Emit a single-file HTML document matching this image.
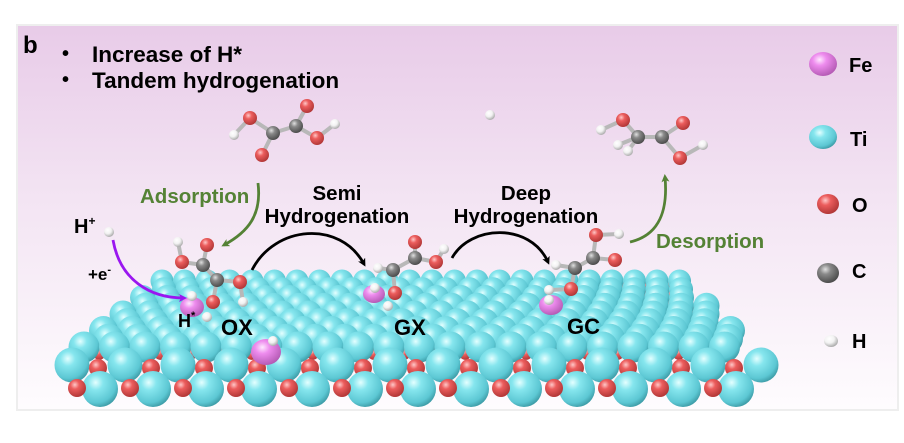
<!DOCTYPE html>
<html><head><meta charset="utf-8"><style>
html,body{margin:0;padding:0;background:#fff;width:904px;height:443px;overflow:hidden}
svg{display:block}
text{font-family:"Liberation Sans",Arial,sans-serif;font-weight:bold}
</style></head><body>
<svg id="s" width="904" height="443" viewBox="0 0 904 443" xmlns="http://www.w3.org/2000/svg">
<defs>
<linearGradient id="bg" x1="0" y1="0" x2="0" y2="1">
<stop offset="0" stop-color="#e8cbe8"/><stop offset="0.45" stop-color="#f3e4f3"/><stop offset="1" stop-color="#fefcfe"/>
</linearGradient>
<radialGradient id="ti" cx="0.38" cy="0.32" r="0.7"><stop offset="0" stop-color="#e4ffff"/><stop offset="0.3" stop-color="#86e6ee"/><stop offset="0.8" stop-color="#5cc7d3"/><stop offset="1" stop-color="#3f9ea9"/></radialGradient>
<radialGradient id="ox" cx="0.38" cy="0.32" r="0.7"><stop offset="0" stop-color="#ffc8c8"/><stop offset="0.35" stop-color="#ec5d5d"/><stop offset="1" stop-color="#b03636"/></radialGradient>
<radialGradient id="fe" cx="0.38" cy="0.32" r="0.7"><stop offset="0" stop-color="#ffe8ff"/><stop offset="0.35" stop-color="#ee8cee"/><stop offset="1" stop-color="#b45ab4"/></radialGradient>
<radialGradient id="cc" cx="0.38" cy="0.32" r="0.7"><stop offset="0" stop-color="#e0e0e0"/><stop offset="0.35" stop-color="#8a8a8a"/><stop offset="1" stop-color="#4a4a4a"/></radialGradient>
<radialGradient id="hh" cx="0.38" cy="0.32" r="0.7"><stop offset="0" stop-color="#ffffff"/><stop offset="0.5" stop-color="#f2f2f2"/><stop offset="1" stop-color="#a8a8a8"/></radialGradient>
<marker id="ag" markerWidth="8" markerHeight="8" refX="5" refY="4" orient="auto" markerUnits="userSpaceOnUse" viewBox="0 0 8 8"><path d="M0,0 L8,4 L0,8 L2,4z" fill="#548235"/></marker>
<marker id="ak" markerWidth="8" markerHeight="8" refX="5" refY="4" orient="auto" markerUnits="userSpaceOnUse" viewBox="0 0 8 8"><path d="M0,0 L8,4 L0,8 L2,4z" fill="#000"/></marker>
<marker id="ap" markerWidth="8" markerHeight="8" refX="5" refY="4" orient="auto" markerUnits="userSpaceOnUse" viewBox="0 0 8 8"><path d="M0,0 L8,4 L0,8 L2,4z" fill="#9a16f0"/></marker>
</defs>
<rect x="17" y="25" width="881" height="385" fill="url(#bg)" stroke="#eee" stroke-width="2"/>
<g id="slab"></g>
<g id="mol"></g>
<text x="23" y="53" font-size="24">b</text>
<text x="62" y="60" font-size="20">•</text><text x="92" y="62" font-size="22.5">Increase of H*</text>
<text x="62" y="86" font-size="20">•</text><text x="92" y="88" font-size="22.5">Tandem hydrogenation</text>
<g fill="none" stroke-width="2.8">
<path d="M258,183 C262,215 248,232 224,245" stroke="#548235" marker-end="url(#ag)"/>
<path d="M113,240 C120,280 150,298 184,298" stroke="#9a16f0" marker-end="url(#ap)"/>
<path d="M252,270 C275,225 340,220 364,264" stroke="#000" marker-end="url(#ak)"/>
<path d="M452,258 C470,225 530,222 548,262" stroke="#000" marker-end="url(#ak)"/>
<path d="M630,242 C660,235 668,210 665,177" stroke="#548235" marker-end="url(#ag)"/>
</g>
<text x="140" y="203" font-size="20.5" fill="#548235">Adsorption</text>
<text x="656" y="248" font-size="20.5" fill="#548235">Desorption</text>
<text x="337" y="200" font-size="20.5" text-anchor="middle">Semi</text>
<text x="337" y="223" font-size="20.5" text-anchor="middle">Hydrogenation</text>
<text x="526" y="200" font-size="20.5" text-anchor="middle">Deep</text>
<text x="526" y="223" font-size="20.5" text-anchor="middle">Hydrogenation</text>
<text x="74" y="233" font-size="20">H<tspan font-size="12" dy="-8">+</tspan></text>
<text x="88" y="280" font-size="17">+e<tspan font-size="11" dy="-7">-</tspan></text>
<text x="178" y="327" font-size="18">H<tspan font-size="11" dy="-8">*</tspan></text>
<text x="221" y="335" font-size="22">OX</text>
<text x="394" y="335" font-size="22">GX</text>
<text x="567" y="334" font-size="22">GC</text>
<g font-size="20">
<text x="849" y="72">Fe</text><text x="850" y="146">Ti</text><text x="852" y="212">O</text><text x="852" y="278">C</text><text x="852" y="348">H</text>
</g>
</svg>
<script>
var NS="http://www.w3.org/2000/svg";
function C(g,x,y,r,f,ry){var e=document.createElementNS(NS,ry?"ellipse":"circle");e.setAttribute("cx",x);e.setAttribute("cy",y);if(ry){e.setAttribute("rx",r);e.setAttribute("ry",ry);}else e.setAttribute("r",r);e.setAttribute("fill","url(#"+f+")");g.appendChild(e);}
function L(g,a,b){var e=document.createElementNS(NS,"line");e.setAttribute("x1",a[0]);e.setAttribute("y1",a[1]);e.setAttribute("x2",b[0]);e.setAttribute("y2",b[1]);e.setAttribute("stroke","#b8b8b8");e.setAttribute("stroke-width","4");g.appendChild(e);}
var s=document.getElementById("slab");
var N=9;
for(var i=0;i<N;i++){var t=i/(N-1);var y=281+t*66,xl=162+t*(84-162),xr=684+t*(752-684),r=11.5+t*4,sp=22.5+t*8;
 var off=(i%2)?sp*0.5:0;
 var xs=[];for(var x=xl+off;x<=xr+0.5;x+=sp)xs.push(x);
 xs.forEach(function(x,j){if(j<xs.length-1)C(s,x+sp*0.5,y+r*0.45,r*0.38,"ox");});
 xs.forEach(function(x){C(s,x,y,r,"ti");});
}
for(var k=0;k<14;k++){C(s,72+k*53,365,17.5,"ti");}
for(var k=0;k<13;k++){C(s,98+k*53,368,9,"ox");}
for(var k=0;k<13;k++){C(s,100+k*53,389,18,"ti");}
for(var k=0;k<13;k++){C(s,77+k*53,388,9,"ox");}
var m=document.getElementById("mol");
function mol(atoms,bonds){bonds.forEach(function(b){L(m,atoms[b[0]],atoms[b[1]]);});atoms.forEach(function(a){var r={ox:7,cc:7,hh:5,fe:12}[a[2]];if(a[3])r=a[3];C(m,a[0],a[1],r,a[2]);});}
C(m,192,307,12,"fe",10);C(m,266,352,15,"fe",13);C(m,374,294,11,"fe",9);C(m,551,305,12,"fe",10);
C(m,273,341,5,"hh");
mol([[250,118,"ox"],[234,135,"hh"],[273,133,"cc"],[262,155,"ox"],[296,126,"cc"],[307,106,"ox"],[317,138,"ox"],[335,124,"hh"]],[[0,1],[0,2],[2,3],[2,4],[4,5],[4,6],[6,7]]);
mol([[623,120,"ox"],[601,130,"hh"],[638,137,"cc"],[618,145,"hh"],[628,151,"hh"],[662,137,"cc"],[683,123,"ox"],[680,158,"ox"],[703,145,"hh"]],[[0,1],[0,2],[2,3],[2,4],[2,5],[5,6],[5,7],[7,8]]);
C(m,490,115,5,"hh");C(m,109,232,5,"hh");
mol([[178,242,"hh"],[182,262,"ox"],[203,265,"cc"],[207,245,"ox"],[217,280,"cc"],[240,282,"ox"],[243,302,"hh"],[213,302,"ox"]],[[0,1],[1,2],[2,3],[2,4],[4,5],[5,6],[4,7]]);
C(m,192,296,5,"hh");C(m,207,317,5,"hh");
mol([[378,268,"hh"],[393,270,"cc"],[395,293,"ox"],[415,258,"cc"],[415,242,"ox"],[436,262,"ox"],[444,249,"hh"]],[[0,1],[1,2],[1,3],[3,4],[3,5],[5,6]]);
C(m,375,288,5,"hh");C(m,388,306,5,"hh");
mol([[556,265,"hh"],[575,268,"cc"],[571,289,"ox"],[549,290,"hh"],[593,258,"cc"],[596,235,"ox"],[619,234,"hh"],[615,260,"ox"]],[[0,1],[1,2],[2,3],[1,4],[4,5],[5,6],[4,7]]);
C(m,549,300,5,"hh");
C(m,823,64,14,"fe",12);C(m,823,137,14,"ti",12);C(m,828,204,11,"ox",10);C(m,828,273,11,"cc",10);C(m,831,341,7,"hh",6);
</script>
</body></html>
